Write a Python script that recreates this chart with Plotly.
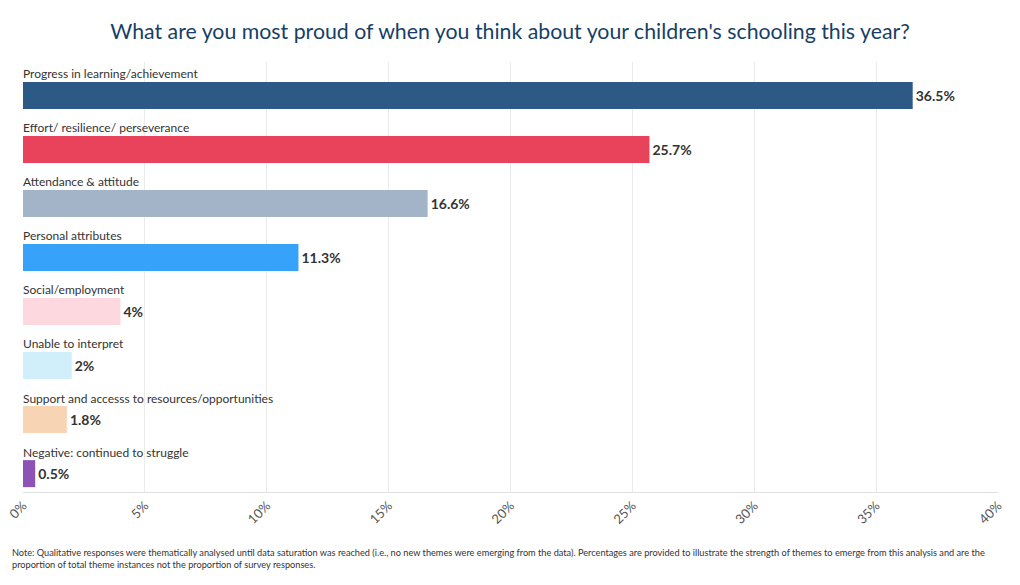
import plotly.graph_objects as go

categories = [
    "Progress in learning/achievement",
    "Effort/ resilience/ perseverance",
    "Attendance & attitude",
    "Personal attributes",
    "Social/employment",
    "Unable to interpret",
    "Support and accesss to resources/opportunities",
    "Negative: continued to struggle",
]
values = [36.5, 25.7, 16.6, 11.3, 4, 2, 1.8, 0.5]
colors = ["#2d5986", "#e8435b", "#a3b4c8", "#37a2fa", "#fdd9df", "#d0effb", "#f7d4b3", "#8c52b5"]
tick_vals = [0, 5, 10, 15, 20, 25, 30, 35, 40]
tick_text = [f"{v}%" for v in tick_vals]

FONT = "Source Sans Pro, Lato, Noto Sans, sans-serif"
idx = list(range(len(categories)))

fig = go.Figure()
fig.add_trace(go.Bar(
    x=values, y=idx, orientation="h", width=0.5,
    marker=dict(color=colors, line=dict(width=0)),
    text=[f"{v:g}%" for v in values], textposition="outside",
    textfont=dict(family=FONT, size=14, color="#333333"),
    texttemplate="<b>%{text}</b>", cliponaxis=False, hoverinfo="skip",
))
for i, c in zip(idx, categories):
    fig.add_annotation(x=0, y=i - 0.4, xref="x", yref="y", text=c, showarrow=False,
                       xanchor="left", yanchor="middle", xshift=-2,
                       font=dict(family=FONT, size=12, color="#333333"))

fig.update_layout(
    width=1004, height=569,
    margin=dict(l=15, r=14, t=54, b=85, autoexpand=False),
    paper_bgcolor="white", plot_bgcolor="white",
    title=dict(text="What are you most proud of when you think about your children's schooling this year?",
               x=0.5, xanchor="center", y=0.958, yanchor="middle",
               font=dict(family=FONT, size=21.3, color="#173f66")),
    showlegend=False,
    xaxis=dict(range=[0, 40], tickvals=tick_vals, ticktext=tick_text, tickangle=-45,
               showgrid=True, gridcolor="#ebebeb", zeroline=False, automargin=False,
               showline=True, linecolor="#e0e0e0", ticklabeloverflow="allow",
               tickfont=dict(family=FONT, size=13, color="#555555")),
    yaxis=dict(range=[7.34, -0.62], showticklabels=False, showgrid=False, zeroline=False,
               automargin=False),
    annotations=list(fig.layout.annotations) + [
        dict(x=0, y=0, xref="paper", yref="paper", xanchor="left", yanchor="top",
             xshift=-13, yshift=-53, align="left", showarrow=False,
             text="Note: Qualitative responses were thematically analysed until data saturation was reached (i.e., no new themes were emerging from the data). Percentages are provided to illustrate the strength of themes to emerge from this analysis and are the<br>proportion of total theme instances not the proportion of survey responses.",
             font=dict(family=FONT, size=9.2, color="#333333"))
    ],
)
fig.write_html("out.html")
